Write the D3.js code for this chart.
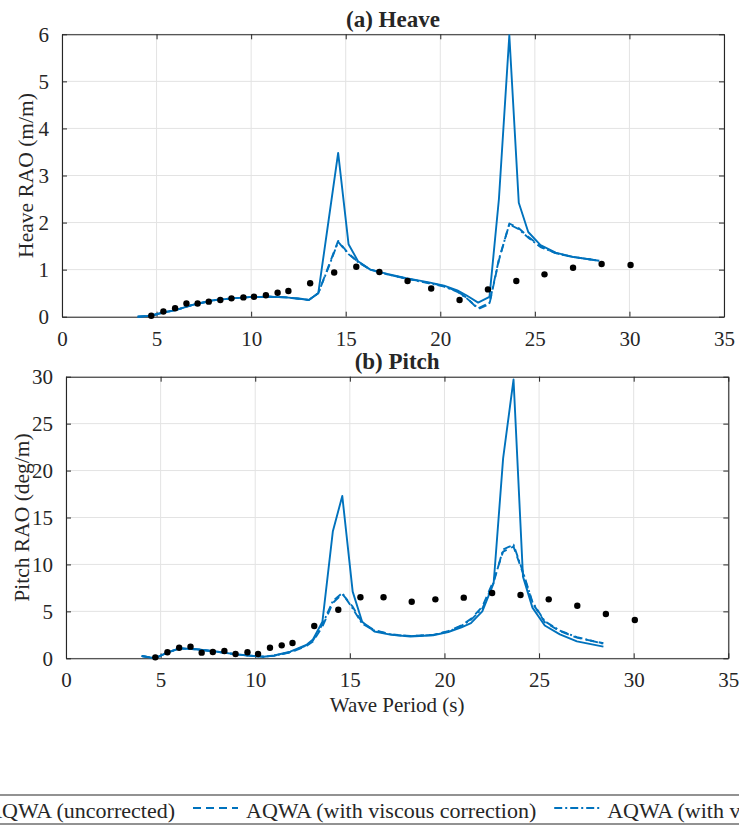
<!DOCTYPE html>
<html><head><meta charset="utf-8">
<script src="https://cdn.jsdelivr.net/npm/d3@7"></script>
<style>
html,body{margin:0;padding:0;background:#fff;}
svg text{font-family:"Liberation Serif","Times New Roman",serif;fill:#262626;}
</style></head>
<body><svg id="chart" width="739" height="825"></svg>
<script>
// ---- data ----
const aqwaPeriods = [4.0,4.7,5.35,6.0,6.9,8.0,9.0,9.9,10.45,11.0,11.85,12.7,13.05,13.55,14.1,14.6,15.15,15.65,16.3,17.2,18.2,19.4,20.2,20.9,21.4,22.0,22.6,23.1,23.65,24.15,24.65,25.3,26.1,27.0,28.4];
const heaveUncorrected = [0.0,0.02,0.09,0.14,0.25,0.35,0.39,0.415,0.42,0.425,0.41,0.375,0.355,0.50,2.06,3.48,1.54,1.18,1.0,0.91,0.82,0.73,0.66,0.56,0.45,0.30,0.42,2.5,5.98,2.42,1.80,1.52,1.36,1.27,1.19];
const heaveViscous = [0.0,0.02,0.09,0.14,0.25,0.35,0.39,0.415,0.42,0.425,0.41,0.375,0.355,0.50,1.08,1.61,1.34,1.17,1.0,0.90,0.81,0.72,0.65,0.54,0.40,0.16,0.27,1.2,1.98,1.88,1.70,1.49,1.35,1.27,1.19];
const heaveViscous2 = [0.0,0.02,0.09,0.14,0.25,0.35,0.39,0.415,0.42,0.425,0.41,0.375,0.355,0.50,1.06,1.59,1.33,1.16,1.0,0.90,0.81,0.71,0.64,0.53,0.39,0.18,0.29,1.22,1.96,1.86,1.68,1.48,1.35,1.27,1.19];
const pitchUncorrected = [0.25,0.0,0.6,1.06,0.96,0.7,0.42,0.25,0.17,0.3,0.7,1.42,2.0,3.9,13.5,17.3,7.1,3.9,2.85,2.5,2.33,2.45,2.8,3.3,3.75,5.0,8.0,21.3,29.7,8.7,5.4,3.5,2.55,1.8,1.24];
const pitchViscous = [0.25,0.0,0.6,1.06,0.96,0.7,0.42,0.25,0.17,0.28,0.62,1.3,1.8,3.37,5.9,6.85,5.5,3.8,3.0,2.55,2.38,2.5,2.9,3.5,4.2,5.5,8.3,11.36,11.9,9.06,5.9,3.85,2.9,2.2,1.6];
const pitchViscous2 = [0.25,0.0,0.6,1.06,0.96,0.7,0.42,0.25,0.17,0.29,0.66,1.35,1.9,3.6,6.1,6.95,5.3,3.7,2.95,2.52,2.36,2.48,2.85,3.45,4.1,5.3,8.1,11.6,12.1,9.2,6.0,3.95,2.95,2.25,1.55];
const expPeriods = [4.72,5.36,5.98,6.58,7.17,7.76,8.37,8.96,9.59,10.15,10.78,11.40,11.97,13.12,14.39,15.56,16.78,18.27,19.52,21.02,22.52,24.02,25.51,27.02,28.53,30.06];
const heaveExperiment = [0.02,0.11,0.18,0.28,0.28,0.32,0.355,0.39,0.41,0.425,0.455,0.51,0.546,0.71,0.94,1.06,0.95,0.76,0.60,0.355,0.58,0.76,0.90,1.04,1.12,1.10];
const pitchExperiment = [0.1,0.64,1.13,1.24,0.6,0.67,0.78,0.46,0.64,0.46,1.13,1.38,1.63,3.44,5.18,6.5,6.5,6.03,6.28,6.46,6.96,6.74,6.28,5.6,4.72,4.08];
const xTicks = [0,5,10,15,20,25,30,35];
const heaveTicks = [0,1,2,3,4,5,6];
const pitchTicks = [0,5,10,15,20,25,30];
const seriesNames = ["Experiment","AQWA (uncorrected)","AQWA (with viscous correction)","AQWA (with viscous and mooring correction)"];
const titles = ["(a) Heave","(b) Pitch"];
const yLabels = ["Heave RAO (m/m)","Pitch RAO (deg/m)"];
const xLabel = "Wave Period (s)";

const blue = "#0072BD";
const dashes = [null, null, "8,5", "8,3,2,3"];
const fmt = d3.format("d");
const svg = d3.select("#chart");
svg.append("rect").attr("width",739).attr("height",825).attr("fill","#fff");

function panel(o){
  const x = d3.scaleLinear().domain([0,35]).range([o.left,o.right]);
  const y = d3.scaleLinear().domain([0,o.ymax]).range([o.bottom,o.top]);
  const g = svg.append("g");
  g.selectAll(".gx").data(xTicks).enter().append("line")
    .attr("x1",d=>x(d)).attr("x2",d=>x(d)).attr("y1",o.top).attr("y2",o.bottom)
    .attr("stroke","#e3e3e3").attr("stroke-width",1);
  g.selectAll(".gy").data(o.yticks).enter().append("line")
    .attr("y1",d=>y(d)).attr("y2",d=>y(d)).attr("x1",o.left).attr("x2",o.right)
    .attr("stroke","#e3e3e3").attr("stroke-width",1);
  const ax = [
    d3.axisBottom(x).tickValues(xTicks).tickFormat(fmt).tickSizeInner(-5).tickSizeOuter(0).tickPadding(14),
    d3.axisTop(x).tickValues(xTicks).tickSizeInner(-5).tickSizeOuter(0).tickFormat(""),
    d3.axisLeft(y).tickValues(o.yticks).tickFormat(fmt).tickSizeInner(-5).tickSizeOuter(0).tickPadding(13),
    d3.axisRight(y).tickValues(o.yticks).tickSizeInner(-5).tickSizeOuter(0).tickFormat("")
  ];
  const pos = [[0,o.bottom],[0,o.top],[o.left,0],[o.right,0]];
  ax.forEach((a,i)=>{
    const ag = g.append("g").attr("transform",`translate(${pos[i][0]},${pos[i][1]})`).call(a);
    ag.select(".domain").attr("stroke","#262626").attr("stroke-width",1.1);
    ag.selectAll(".tick line").attr("stroke","#262626").attr("stroke-width",1);
    ag.selectAll("text").attr("font-size",21).style("font-family","'Liberation Serif',serif").attr("fill","#262626");
  });
  const line = d3.line().x(d=>x(d[0])).y(d=>y(d[1]));
  o.series.forEach((s,i)=>{
    g.append("path").datum(aqwaPeriods.map((t,k)=>[t,s[k]]))
      .attr("d",line).attr("fill","none").attr("stroke",blue).attr("stroke-width",1.9)
      .attr("stroke-linejoin","round")
      .attr("stroke-dasharray",dashes[i+1]);
  });
  g.selectAll(".dot").data(expPeriods.map((t,k)=>[t,o.exp[k]])).enter().append("circle")
    .attr("cx",d=>x(d[0])).attr("cy",d=>y(d[1])).attr("r",3.2).attr("fill","#000");
  g.append("text").attr("x",(o.left+o.right)/2).attr("y",o.top-7.5).attr("text-anchor","middle")
    .attr("font-size",23).attr("font-weight","bold").attr("fill","#000").text(o.title);
  g.append("text").attr("transform",`translate(${o.ylabX},${(o.top+o.bottom)/2}) rotate(-90)`)
    .attr("text-anchor","middle").attr("font-size",21.5).text(o.ylabel);
  return {x,y};
}

panel({left:62,right:724,top:34.3,bottom:316.7,ymax:6,yticks:heaveTicks,
  series:[heaveUncorrected,heaveViscous,heaveViscous2],exp:heaveExperiment,title:titles[0],ylabel:yLabels[0],ylabX:33});
panel({left:66,right:728.3,top:376.7,bottom:658.3,ymax:30,yticks:pitchTicks,
  series:[pitchUncorrected,pitchViscous,pitchViscous2],exp:pitchExperiment,title:titles[1],ylabel:yLabels[1],ylabX:29});

svg.append("text").attr("x",(66+728.3)/2).attr("y",712).attr("text-anchor","middle")
  .attr("font-size",21).text(xLabel);

// legend
const lg = svg.append("g");
lg.append("line").attr("x1",0).attr("x2",739).attr("y1",795).attr("y2",795).attr("stroke","#262626").attr("stroke-width",1.2);
lg.append("line").attr("x1",0).attr("x2",739).attr("y1",824).attr("y2",824).attr("stroke","#262626").attr("stroke-width",1.2);
const sampleW = 45, gapST = 8, gapItem = 18;
const items = seriesNames.map(n=>{
  const t = lg.append("text").attr("y",818).attr("font-size",22).text(n);
  return {n, t, w: t.node().getComputedTextLength()};
});
let widths = items.map(it=>sampleW+gapST+it.w+gapItem);
let x0 = 246 - gapST - sampleW - widths[0] - widths[1];
items.forEach((it,i)=>{
  const sx = x0;
  if(i===0){
    lg.append("circle").attr("cx",sx+sampleW/2).attr("cy",808).attr("r",3.2).attr("fill","#000");
  } else {
    lg.append("line").attr("x1",sx).attr("x2",sx+sampleW).attr("y1",808).attr("y2",808)
      .attr("stroke",blue).attr("stroke-width",1.9).attr("stroke-dasharray",dashes[i]);
  }
  it.t.attr("x",sx+sampleW+gapST);
  x0 += widths[i];
});
</script></body></html>
